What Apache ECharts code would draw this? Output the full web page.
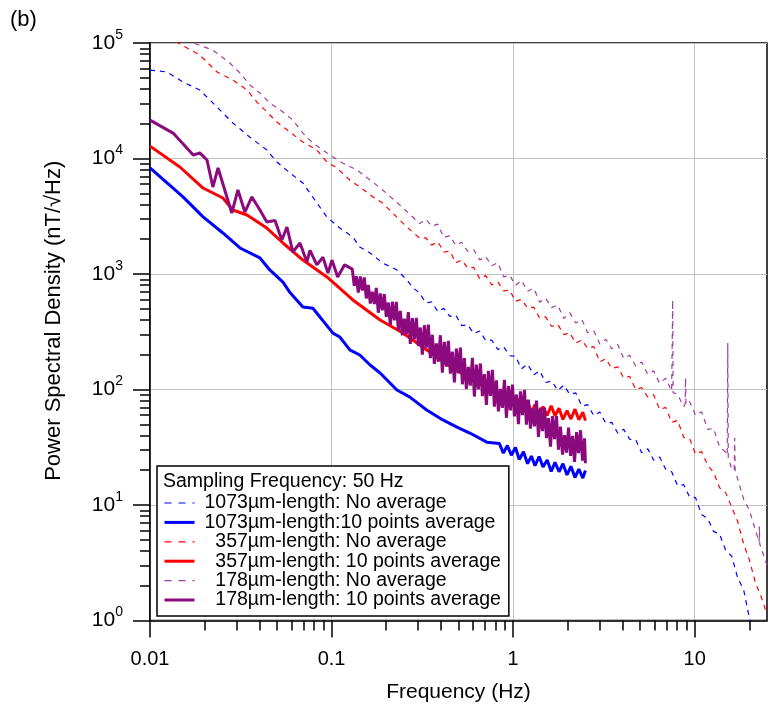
<!DOCTYPE html>
<html>
<head>
<meta charset="utf-8">
<title>PSD</title>
<script src="https://cdn.jsdelivr.net/npm/echarts@6/dist/echarts.min.js"></script>
<style>
  html, body { margin: 0; padding: 0; background: #fff; }
  #chart { width: 779px; height: 714px; }
</style>
</head>
<body>
<div id="chart"></div>
<script>
// tick positions (log axes)
const xMajor = [0.01, 0.1, 1, 10];
const xMinor = [0.02, 0.03, 0.04, 0.05, 0.06, 0.07, 0.08, 0.09,
  0.2, 0.3, 0.4, 0.5, 0.6, 0.7, 0.8, 0.9, 2, 3, 4, 5, 6, 7, 8, 9, 20];
const yMajor = [1, 10, 100, 1000, 10000, 100000];
const yMinor = [2, 3, 4, 5, 6, 7, 8, 9, 20, 30, 40, 50, 60, 70, 80, 90,
  200, 300, 400, 500, 600, 700, 800, 900, 2000, 3000, 4000, 5000, 6000, 7000, 8000, 9000,
  20000, 30000, 40000, 50000, 60000, 70000, 80000, 90000];

const legendNames = [
  '1073µm-length: No average',
  '1073µm-length:10 points average',
  '  357µm-length: No average',
  '  357µm-length: 10 points average',
  '  178µm-length: No average',
  '  178µm-length: 10 points average'
];

// [frequency Hz, PSD nT/√Hz]
const blueRaw = [
  [0.01, 58300], [0.0124, 56100], [0.0152, 45900], [0.0188, 39200], [0.0234, 27900], [0.0286, 20300],
  [0.0355, 15300], [0.044, 11850], [0.05, 9330], [0.059, 7490], [0.0695, 6140], [0.083, 4120],
  [0.0942, 3120], [0.111, 2500], [0.131, 2090], [0.143, 1710], [0.163, 1520], [0.191, 1245],
  [0.229, 1084], [0.26, 888], [0.28, 760],
  [0.306, 684], [0.33, 561], [0.356, 573], [0.385, 472], [0.415, 504], [0.448, 429], [0.483, 442],
  [0.521, 357], [0.562, 363], [0.607, 305], [0.655, 321], [0.706, 266], [0.762, 268], [0.822, 222],
  [0.887, 234], [0.957, 196], [1.03, 194], [1.11, 151], [1.2, 166], [1.3, 134], [1.4, 145],
  [1.51, 115], [1.63, 118.5], [1.76, 98], [1.9, 109], [2.05, 90.7], [2.21, 93.6], [2.39, 71.7],
  [2.57, 74], [2.78, 59.4], [3.0, 63.9], [3.24, 50.9], [3.49, 52], [3.77, 41.8], [4.06, 45.2],
  [4.38, 37.1], [4.73, 36.8], [5.1, 28.3], [5.51, 30.7], [5.94, 24.4], [6.41, 26], [6.92, 20.4],
  [7.46, 19.4], [8.05, 14.7], [8.69, 15], [9.38, 11.7], [10.1, 11.6], [10.9, 8.27], [11.8, 7.61],
  [12.7, 5.91], [13.7, 5.59], [14.8, 4.07], [16.0, 3.6], [17.2, 2.36], [18.6, 1.84], [20.0, 1.05],
  [21.6, 0.7]
];

const blueAvg = [
  [0.01, 8280], [0.0152, 4650], [0.0196, 3120], [0.0252, 2265], [0.0313, 1680], [0.0403, 1377],
  [0.0457, 1084], [0.054, 850], [0.059, 690], [0.0695, 518], [0.0789, 505], [0.1017, 308],
  [0.111, 285], [0.126, 220], [0.143, 199], [0.163, 163], [0.185, 139], [0.229, 99], [0.27, 86],
  [0.334, 66.5], [0.41, 54.5], [0.49, 47.3], [0.577, 42], [0.716, 35],
  [0.84, 34], [0.883, 28.1], [0.929, 32.7], [0.977, 27], [1.03, 31.5], [1.08, 24.8], [1.14, 28.9],
  [1.2, 22.8], [1.26, 26.5], [1.32, 21.9], [1.39, 26.3], [1.46, 21.3], [1.54, 24.5], [1.62, 19.5],
  [1.7, 23.4], [1.79, 19.4], [1.88, 22.8], [1.98, 18.2], [2.08, 21.6], [2.19, 17.3], [2.3, 20.4],
  [2.42, 17.1], [2.5, 19.9]
];

const redRaw = [
  [0.01, 140000], [0.0143, 100000], [0.0188, 78700], [0.0234, 56100], [0.0286, 47800], [0.0342, 39200],
  [0.0388, 30800], [0.044, 25300], [0.05, 20700], [0.059, 16900], [0.0695, 13900], [0.083, 11850],
  [0.0942, 9330], [0.107, 8280], [0.126, 6510], [0.143, 5660], [0.169, 4650], [0.191, 4120],
  [0.217, 3370], [0.26, 2550],
  [0.306, 2038], [0.33, 2060], [0.356, 1778], [0.385, 1901], [0.415, 1549], [0.448, 1580], [0.483, 1250],
  [0.521, 1324], [0.562, 1125], [0.607, 1140], [0.655, 907], [0.706, 968], [0.762, 805], [0.822, 856],
  [0.887, 713], [0.957, 725], [1.03, 580], [1.11, 603], [1.2, 507], [1.3, 516], [1.4, 414], [1.51, 425],
  [1.63, 351], [1.76, 367], [1.9, 299], [2.05, 310], [2.21, 252], [2.39, 268], [2.57, 227], [2.78, 235],
  [3.0, 173], [3.24, 185], [3.49, 152], [3.77, 157], [4.06, 126], [4.38, 130], [4.73, 100], [5.1, 104],
  [5.51, 86.1], [5.94, 90], [6.41, 67], [6.92, 70], [7.46, 52], [8.05, 54], [8.69, 38.6], [9.38, 37.5],
  [10.1, 27.6], [10.9, 29], [11.8, 22], [12.7, 19.2], [13.7, 14.1], [14.8, 12.8], [16.0, 9.5],
  [17.2, 7.27], [18.6, 4.59], [20.0, 3.35], [21.6, 2.12], [23.3, 1.58], [25, 1.13]
];

const redAvg = [
  [0.01, 12800], [0.0146, 8440], [0.0196, 5550], [0.0252, 4550], [0.0286, 3580], [0.0342, 3240],
  [0.044, 2500], [0.054, 1855], [0.0695, 1320], [0.0942, 942], [0.131, 596], [0.185, 400],
  [0.247, 308], [0.306, 243], [0.465, 153], [0.655, 114], [0.81, 95],
  [0.977, 87], [1.03, 71.6], [1.08, 83], [1.14, 68.5], [1.2, 80], [1.26, 63], [1.32, 74], [1.39, 59.7],
  [1.46, 71], [1.54, 59.6], [1.62, 72.3], [1.7, 59.3], [1.79, 68.7], [1.88, 55], [1.98, 65.6],
  [2.08, 55.5], [2.19, 67.6], [2.3, 54.6], [2.42, 63.5], [2.5, 53.8]
];

const purpleRaw = [
  [0.01, 155000], [0.0173, 100000], [0.0222, 86900], [0.0275, 67100], [0.0313, 55000], [0.0355, 43300],
  [0.0403, 36900], [0.0457, 30200], [0.054, 25300], [0.0612, 21500], [0.0695, 16600], [0.0789, 13600],
  [0.098, 10700], [0.115, 9140], [0.138, 7950], [0.163, 6510], [0.191, 5340], [0.238, 3950],
  [0.306, 2730], [0.33, 2978], [0.356, 2600], [0.385, 2700], [0.415, 2066], [0.448, 2150], [0.483, 1770],
  [0.521, 1885], [0.562, 1566], [0.607, 1620], [0.655, 1324], [0.706, 1415], [0.762, 1180], [0.822, 1250],
  [0.887, 944], [0.957, 975], [1.03, 798], [1.11, 882], [1.2, 708], [1.3, 750], [1.4, 570], [1.51, 617],
  [1.63, 512], [1.76, 540], [1.9, 411], [2.05, 463], [2.21, 376], [2.39, 403], [2.57, 311], [2.78, 322],
  [3.0, 248], [3.24, 272], [3.49, 225], [3.77, 245], [4.06, 186], [4.38, 198], [4.73, 160], [5.1, 173],
  [5.51, 136], [5.94, 145], [6.41, 113], [6.92, 125], [7.46, 97], [7.53, 96], [7.56, 596], [7.6, 94],
  [8.05, 90.7], [8.69, 71], [8.85, 75], [8.9, 126], [8.95, 74], [9.38, 78.4], [10.1, 59.9], [10.9, 64],
  [11.8, 45.1], [12.7, 46], [13.7, 31.8], [14.8, 28.7], [15.1, 27], [15.2, 253], [15.3, 26], [16.0, 20.3],
  [16.5, 20], [16.6, 38], [16.7, 19.5], [17.2, 17], [18.6, 11.2], [20.0, 9.0], [21.6, 6.06],
  [22.6, 4.8], [22.7, 6.5], [22.8, 4.6], [23.3, 4.49], [25, 3.02]
];

const purpleAvg = [
  [0.01, 21500], [0.0134, 16600], [0.0173, 10700], [0.0188, 11200], [0.0206, 9700], [0.0222, 5660],
  [0.0237, 8280], [0.0282, 3370], [0.0305, 5340], [0.0333, 3440], [0.0364, 4650], [0.0403, 3580],
  [0.044, 2820], [0.0488, 2900], [0.0532, 1970], [0.0568, 2550], [0.0612, 1550], [0.067, 1855],
  [0.0731, 1270], [0.076, 1600], [0.083, 1200], [0.0896, 1400], [0.0955, 1020], [0.1005, 1320],
  [0.108, 942], [0.118, 1200],
  // dense noisy part
  [0.13, 1102], [0.1333, 791], [0.1368, 957], [0.1403, 689], [0.1439, 953], [0.1476, 719],
  [0.1514, 933], [0.1553, 614], [0.1593, 804], [0.1634, 555], [0.1676, 703], [0.1719, 550],
  [0.1763, 759], [0.1808, 462], [0.1855, 678], [0.1902, 484], [0.1951, 671], [0.2001, 426],
  [0.2053, 566], [0.2106, 363], [0.216, 575], [0.2215, 397], [0.2272, 573], [0.2331, 327],
  [0.2391, 479], [0.2452, 294], [0.2515, 411], [0.258, 301], [0.2646, 468], [0.2714, 248],
  [0.2784, 414], [0.2856, 272], [0.2929, 417], [0.3005, 238], [0.3082, 344], [0.3161, 200],
  [0.3242, 360], [0.3326, 230], [0.3411, 364], [0.3499, 187], [0.3589, 298], [0.3681, 167],
  [0.3776, 251], [0.3873, 174], [0.3973, 295], [0.4075, 140], [0.418, 259], [0.4287, 158],
  [0.4397, 264], [0.451, 137], [0.4626, 213], [0.4745, 115], [0.4867, 226], [0.4992, 138],
  [0.512, 231], [0.5252, 111], [0.5387, 187], [0.5525, 101], [0.5667, 157], [0.5813, 108],
  [0.5962, 188], [0.6115, 86.9], [0.6273, 164], [0.6434, 100], [0.6599, 168], [0.6769, 87.5],
  [0.6943, 136], [0.7121, 73.6], [0.7304, 145], [0.7492, 87.9], [0.7685, 148], [0.7882, 71.1],
  [0.8085, 120], [0.8293, 64.7], [0.8506, 101], [0.8725, 69.3], [0.8949, 121], [0.9179, 56.9],
  [0.9415, 107], [0.9657, 66.1], [0.9906, 110], [1.016, 58.6], [1.042, 90.5], [1.069, 50.1],
  [1.097, 96.4], [1.125, 60.1], [1.154, 99.1], [1.183, 49.7], [1.214, 81.6], [1.245, 45.8],
  [1.277, 69], [1.31, 48], [1.344, 80.2], [1.378, 38.8], [1.414, 69.7], [1.45, 43.6],
  [1.487, 69.8], [1.526, 38], [1.565, 56.6], [1.605, 32], [1.647, 58.7], [1.689, 37.1],
  [1.732, 58.9], [1.777, 30.2], [1.823, 47.8], [1.87, 27.3], [1.918, 40.2], [1.967, 28.4],
  [2.018, 46.7], [2.07, 26.6], [2.123, 39.6], [2.178, 23.6], [2.234, 42.7], [2.291, 28.2],
  [2.35, 44.4], [2.41, 24.2], [2.473, 37.8], [2.5, 23]
];

const FONT = '"Liberation Sans", Arial, Helvetica, sans-serif';
const chart = echarts.init(document.getElementById('chart'));

function lineSeries(name, data, color, width, dashed) {
  return {
    name: name,
    type: 'line',
    data: data,
    symbol: 'none',
    silent: true,
    animation: false,
    lineStyle: { color: color, width: width, type: dashed ? [5, 5] : 'solid' },
    itemStyle: { color: color }
  };
}

const tickStyle = { color: '#000', width: 1.5 };
const sameBox = { left: 150, top: 43, width: 617, height: 577.5 };
const dashIcon = { type: [7, 7], width: 1.2 };
const solidIcon = { width: 3 };

chart.setOption({
  backgroundColor: '#fff',
  animation: false,
  grid: [
    Object.assign({ show: true, borderColor: '#000', borderWidth: 1.5 }, sameBox),
    Object.assign({ show: false }, sameBox)
  ],
  xAxis: [
    {
      type: 'log', logBase: 10, min: 0.01, max: 25, gridIndex: 0, position: 'bottom',
      name: 'Frequency (Hz)', nameLocation: 'middle', nameGap: 61,
      nameTextStyle: { fontFamily: FONT, fontSize: 21, color: '#000' },
      axisLine: { onZero: false, lineStyle: tickStyle },
      axisTick: { length: 17, customValues: xMajor, lineStyle: tickStyle },
      axisLabel: {
        customValues: xMajor, margin: 29, fontFamily: FONT, fontSize: 20, color: '#000',
        formatter: v => String(v)
      },
      splitLine: { show: true, lineStyle: { color: '#c2c2c2', width: 1 } }
    },
    {
      // minor ticks only
      type: 'log', logBase: 10, min: 0.01, max: 25, gridIndex: 1, position: 'bottom',
      axisLine: { show: false },
      axisTick: { length: 10, customValues: xMinor, lineStyle: tickStyle },
      axisLabel: { show: false },
      splitLine: { show: false }
    }
  ],
  yAxis: [
    {
      type: 'log', logBase: 10, min: 1, max: 100000, gridIndex: 0, position: 'left',
      name: 'Power Spectral Density (nT/√Hz)', nameLocation: 'middle', nameGap: 85,
      nameTextStyle: { fontFamily: FONT, fontSize: 22, color: '#000', padding: [0, 0, 0, 22] },
      axisLine: { onZero: false, lineStyle: tickStyle },
      axisTick: { length: 17, customValues: yMajor, lineStyle: tickStyle },
      axisLabel: {
        customValues: yMajor, margin: 27, color: '#000',
        formatter: v => '{b|10}{s|' + Math.round(Math.log10(v)) + '}',
        rich: {
          b: { fontFamily: FONT, fontSize: 21, color: '#000' },
          s: { fontFamily: FONT, fontSize: 14, color: '#000', padding: [0, 0, 16, 0] }
        }
      },
      splitLine: { show: true, lineStyle: { color: '#c2c2c2', width: 1 } }
    },
    {
      type: 'log', logBase: 10, min: 1, max: 100000, gridIndex: 1, position: 'left',
      axisLine: { show: false },
      axisTick: { length: 10, customValues: yMinor, lineStyle: tickStyle },
      axisLabel: { show: false },
      splitLine: { show: false }
    }
  ],
  legend: {
    orient: 'vertical',
    left: 157,
    top: 466,
    data: [
      { name: legendNames[0], lineStyle: dashIcon },
      { name: legendNames[1], lineStyle: solidIcon },
      { name: legendNames[2], lineStyle: dashIcon },
      { name: legendNames[3], lineStyle: solidIcon },
      { name: legendNames[4], lineStyle: dashIcon },
      { name: legendNames[5], lineStyle: solidIcon }
    ],
    itemWidth: 30,
    itemHeight: 14,
    itemGap: -0.6,
    padding: [27, 8, 6, 6],
    itemStyle: { opacity: 0 },
    borderColor: '#000',
    borderWidth: 1.5,
    backgroundColor: '#fff',
    selectedMode: false,
    textStyle: { fontFamily: FONT, fontSize: 19.5, lineHeight: 19, color: '#000', padding: [0, 0, 0, 5] }
  },
  graphic: [
    {
      type: 'text', left: 10, top: 9, z: 100,
      style: { text: '(b)', font: '22px ' + FONT, fill: '#000' }
    },
    {
      type: 'text', left: 163, top: 472, z: 100,
      style: { text: 'Sampling Frequency: 50 Hz', font: '19.5px ' + FONT, fill: '#000' }
    }
  ],
  series: [
    lineSeries(legendNames[0], blueRaw, '#0000ff', 1.2, true),
    lineSeries(legendNames[2], redRaw, '#ff0000', 1.2, true),
    lineSeries(legendNames[4], purpleRaw, '#a23ca2', 1.2, true),
    lineSeries(legendNames[1], blueAvg, '#0000ff', 3, false),
    lineSeries(legendNames[3], redAvg, '#ff0000', 3, false),
    lineSeries(legendNames[5], purpleAvg, '#8b0a7e', 3, false)
  ]
});
</script>
</body>
</html>
